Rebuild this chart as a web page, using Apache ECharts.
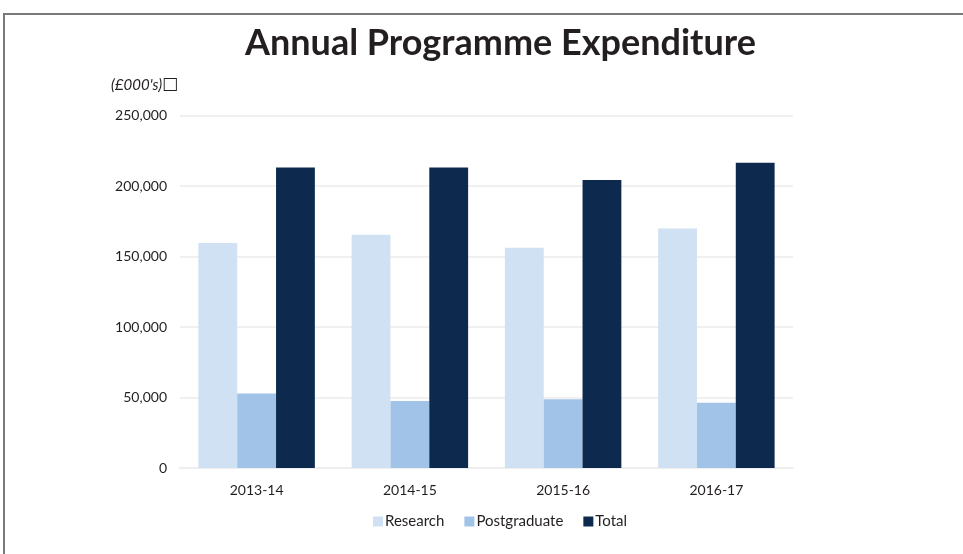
<!DOCTYPE html>
<html>
<head>
    <meta charset="utf-8">
    <title>Annual Programme Expenditure</title>
    <script src="https://cdnjs.cloudflare.com/ajax/libs/echarts/6.0.0/echarts.min.js"></script>
    <style>
        body { margin: 0; background: #fff; }
        #frame { position: absolute; left: 3px; top: 13px; width: 960px; height: 541px;
                 border-top: 2px solid #7a7a7a; border-left: 2px solid #7a7a7a; box-sizing: border-box; }
    </style>
</head>
<body>
    <div id="frame"></div>
    <div id="main" style="position:absolute;left:0;top:0;width:963px;height:554px;"></div>
    <script type="text/javascript">

    // data
    var years = ['2013-14', '2014-15', '2015-16', '2016-17'];
    var research = [159600, 165500, 156200, 169900];
    var postgraduate = [52900, 47500, 48700, 46300];
    var total = [213200, 213200, 204300, 216500];

    var font = 'Lato, "Open Sans", sans-serif';
    var myChart = echarts.init(document.getElementById('main'));

    var option = {
        animation: false,
        textStyle: { fontFamily: font },
        title: {
            text: 'Annual Programme Expenditure',
            left: 240,
            top: 20,
            textStyle: { fontSize: 36, fontWeight: 'bold', color: '#231f20', fontFamily: font }
        },
        legend: {
            top: 509,
            left: 368,
            itemWidth: 10,
            itemHeight: 10,
            itemGap: 20,
            icon: 'rect',
            textStyle: { fontSize: 15, color: '#231f20', padding: [0, 0, 0, -3] },
            data: ['Research', 'Postgraduate', 'Total']
        },
        grid: { left: 180, right: 170, top: 115.5, bottom: 86, containLabel: false },
        xAxis: {
            type: 'category',
            data: years,
            axisLine: { lineStyle: { color: '#eeeeee', width: 2 } },
            axisTick: { show: false },
            axisLabel: { fontSize: 14, color: '#231f20', margin: 15 }
        },
        yAxis: {
            type: 'value',
            min: 0,
            max: 250000,
            interval: 50000,
            name: "{a|(£000's)}{b|□}",
            nameLocation: 'end',
            nameGap: 22,
            nameTextStyle: {
                align: 'left', padding: [0, 0, 0, -69],
                rich: {
                    a: { fontStyle: 'italic', fontSize: 15, color: '#231f20', fontFamily: font },
                    b: { fontSize: 17, color: '#231f20', fontFamily: 'DejaVu Sans' }
                }
            },
            axisLine: { show: false },
            axisTick: { show: false },
            splitLine: { lineStyle: { color: '#f0f0f0', width: 2 } },
            axisLabel: {
                fontSize: 14, color: '#231f20', margin: 13,
                formatter: function (v) { return v.toLocaleString('en-GB'); }
            }
        },
        series: [
            { name: 'Research', type: 'bar', data: research, barGap: '0%', barCategoryGap: '24%',
              itemStyle: { color: '#d0e1f3' } },
            { name: 'Postgraduate', type: 'bar', data: postgraduate,
              itemStyle: { color: '#a1c3e8' } },
            { name: 'Total', type: 'bar', data: total,
              itemStyle: { color: '#0d2a4e' } }
        ]
    };

    myChart.setOption(option);
    </script>
</body>
</html>
